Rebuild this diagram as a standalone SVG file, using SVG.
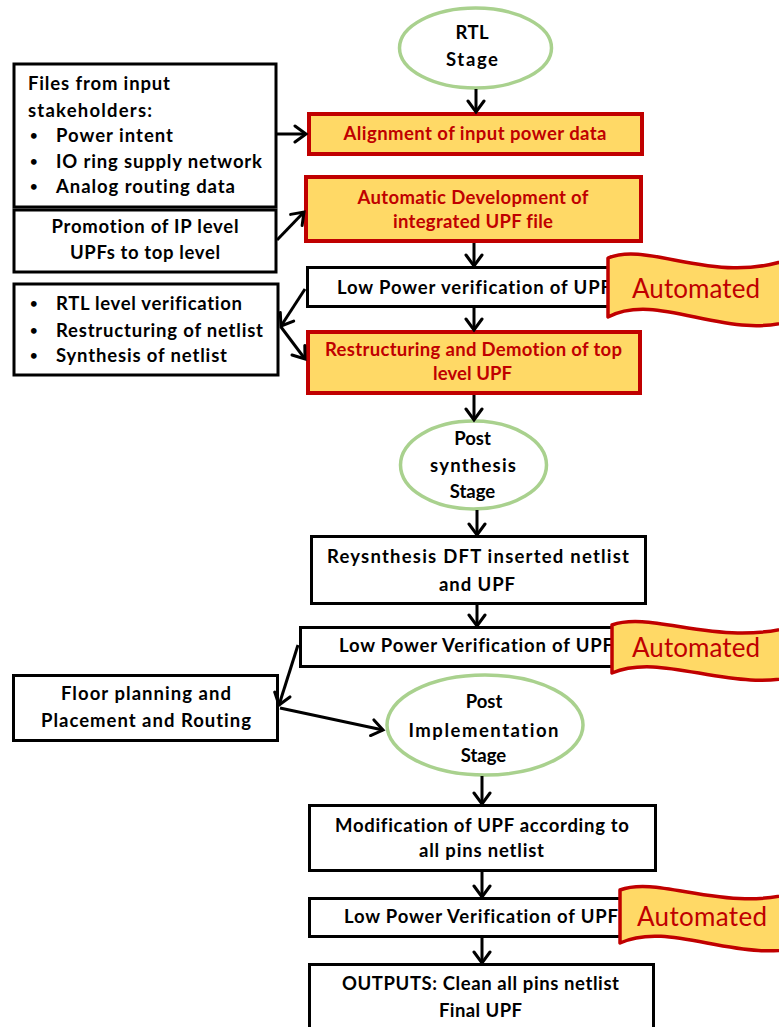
<svg xmlns="http://www.w3.org/2000/svg" width="779" height="1027" viewBox="0 0 779 1027">
  <defs>
    <marker id="arrow" markerUnits="userSpaceOnUse" markerWidth="16" markerHeight="20" viewBox="0 0 16 20" refX="13" refY="10" orient="auto">
      <path d="M2,2 L13,10 L2,18" fill="none" stroke="#000" stroke-width="3" stroke-linecap="round" stroke-linejoin="miter"/>
    </marker>
    <style>
      .box { fill: #fff; stroke: #000; stroke-width: 3; }
      .hi { fill: #ffd966; stroke: #c00000; stroke-width: 4; }
      .stage { fill: #fff; stroke: #a9d18e; stroke-width: 3.5; }
      .flag { fill: #ffd966; stroke: #c00000; stroke-width: 3.5; stroke-linejoin: round; }
      text { font-family: Lato, "Liberation Sans", sans-serif; font-weight: bold; font-size: 18.5px; fill: #000; font-variant-ligatures: none; }
      .c { text-anchor: middle; }
      .red { fill: #c00000; }
      .dot { font-size: 13px; }
      .flagtxt { font-weight: normal; font-size: 26px; fill: #c00000; }
      .conn { fill: none; stroke: #000; stroke-width: 3; marker-end: url(#arrow); }
    </style>
  </defs>

  <!-- input files from stakeholders -->
  <g id="files">
    <rect class="box" x="14" y="64" width="262" height="143"/>
    <text x="28" y="90" textLength="142">Files from input</text>
    <text x="28" y="117" textLength="124">stakeholders:</text>
    <text class="dot" x="30" y="140">•</text>
    <text x="56" y="142" textLength="117">Power intent</text>
    <text class="dot" x="30" y="166">•</text>
    <text x="56" y="168" textLength="206">IO ring supply network</text>
    <text class="dot" x="30" y="191">•</text>
    <text x="56" y="193" textLength="179">Analog routing data</text>
  </g>

  <g id="promotion">
    <rect class="box" x="14" y="210" width="262" height="62"/>
    <text class="c" x="145" y="233" textLength="187">Promotion of IP level</text>
    <text class="c" x="145" y="259" textLength="150">UPFs to top level</text>
  </g>

  <g id="rtl-tasks">
    <rect class="box" x="14" y="284" width="264" height="91"/>
    <text class="dot" x="30" y="308">•</text>
    <text x="56" y="310" textLength="186">RTL level verification</text>
    <text class="dot" x="30" y="335">•</text>
    <text x="56" y="337" textLength="207">Restructuring of netlist</text>
    <text class="dot" x="30" y="360">•</text>
    <text x="56" y="362" textLength="171">Synthesis of netlist</text>
  </g>

  <g id="floorplan">
    <rect class="box" x="13.5" y="675.5" width="264" height="65"/>
    <text class="c" x="146" y="700" textLength="170">Floor planning and</text>
    <text class="c" x="146" y="727" textLength="210">Placement and Routing</text>
  </g>

  <!-- main flow -->
  <g id="rtl-stage">
    <ellipse class="stage" cx="475.5" cy="48" rx="76" ry="40"/>
    <text class="c" x="472" y="39" textLength="33">RTL</text>
    <text class="c" x="472" y="66" textLength="52">Stage</text>
  </g>

  <g id="alignment">
    <rect class="hi" x="309" y="114" width="333" height="40"/>
    <text class="c red" x="475" y="140" textLength="263">Alignment of input power data</text>
  </g>

  <g id="integration">
    <rect class="hi" x="306" y="177" width="335" height="64"/>
    <text class="c red" x="473" y="204" textLength="231">Automatic Development of</text>
    <text class="c red" x="473" y="228" textLength="160">integrated UPF file</text>
  </g>

  <g id="lp-verify-1">
    <rect class="box" x="307.5" y="267.5" width="335" height="39"/>
    <text class="c" x="474" y="294" textLength="274">Low Power verification of UPF</text>
  </g>

  <g id="demotion">
    <rect class="hi" x="308" y="332" width="332" height="61"/>
    <text class="c red" x="473.5" y="356" textLength="297">Restructuring and Demotion of top</text>
    <text class="c red" x="472.5" y="380" textLength="79">level UPF</text>
  </g>

  <g id="post-synthesis">
    <ellipse class="stage" cx="473.5" cy="465" rx="73" ry="44"/>
    <text class="c" x="472.5" y="445">Post</text>
    <text class="c" x="473" y="472" textLength="86">synthesis</text>
    <text class="c" x="472.5" y="498">Stage</text>
  </g>

  <g id="resynthesis">
    <rect class="box" x="311.5" y="536.5" width="334" height="67"/>
    <text class="c" x="478" y="563" textLength="302">Reysnthesis DFT inserted netlist</text>
    <text class="c" x="477" y="591" textLength="76">and UPF</text>
  </g>

  <g id="lp-verify-2">
    <rect class="box" x="300.5" y="627.5" width="338" height="39"/>
    <text class="c" x="476" y="652" textLength="274">Low Power Verification of UPF</text>
  </g>

  <g id="post-implementation">
    <ellipse class="stage" cx="485" cy="725" rx="98" ry="50"/>
    <text class="c" x="484" y="708">Post</text>
    <text class="c" x="483.5" y="737" textLength="150">Implementation</text>
    <text class="c" x="483.5" y="762">Stage</text>
  </g>

  <g id="modification">
    <rect class="box" x="309.5" y="805.5" width="346" height="65"/>
    <text class="c" x="482" y="832" textLength="294">Modification of UPF according to</text>
    <text class="c" x="481.5" y="857" textLength="125">all pins netlist</text>
  </g>

  <g id="lp-verify-3">
    <rect class="box" x="309.5" y="898.5" width="344" height="38"/>
    <text class="c" x="481" y="923" textLength="274">Low Power Verification of UPF</text>
  </g>

  <g id="outputs">
    <rect class="box" x="309.5" y="964.5" width="344" height="75"/>
    <text class="c" x="480.5" y="990" textLength="277">OUTPUTS: Clean all pins netlist</text>
    <text class="c" x="480.5" y="1017" textLength="83">Final UPF</text>
  </g>

  <!-- connectors -->
  <g id="connectors">
    <line class="conn" x1="476" y1="89" x2="476" y2="112"/>
    <line class="conn" x1="474" y1="243" x2="474" y2="266"/>
    <line class="conn" x1="474" y1="308" x2="474" y2="330"/>
    <line class="conn" x1="474" y1="395" x2="474" y2="420"/>
    <line class="conn" x1="477" y1="510" x2="477" y2="535"/>
    <line class="conn" x1="477" y1="605" x2="477" y2="626"/>
    <line class="conn" x1="482" y1="776" x2="482" y2="804"/>
    <line class="conn" x1="482" y1="872" x2="482" y2="897"/>
    <line class="conn" x1="482" y1="938" x2="482" y2="963"/>
    <line class="conn" x1="277" y1="134" x2="306" y2="134"/>
    <line class="conn" x1="277" y1="240" x2="304" y2="212"/>
    <line class="conn" x1="305" y1="289" x2="281" y2="326"/>
    <line class="conn" x1="281" y1="327" x2="305" y2="359"/>
    <line class="conn" x1="298" y1="645" x2="279" y2="705"/>
    <line class="conn" x1="280" y1="708" x2="383" y2="730"/>
  </g>

  <!-- "Automated" ribbons -->
  <g id="flag-1">
    <path class="flag" d="M608,258 C650,240 720,290 800,255 L800,318 C730,345 660,290 608,317 Z"/>
    <text class="flagtxt" x="632" y="298" textLength="128">Automated</text>
  </g>
  <g id="flag-2">
    <path class="flag" d="M612,625 C654,610 724,651 804,623 L804,674 C734,696 664,651 612,673 Z"/>
    <text class="flagtxt" x="632" y="657" textLength="128">Automated</text>
  </g>
  <g id="flag-3">
    <path class="flag" d="M620,890 C662,874 732,919 812,887 L812,944 C742,968 672,919 620,943 Z"/>
    <text class="flagtxt" x="637" y="926" textLength="130">Automated</text>
  </g>
</svg>
